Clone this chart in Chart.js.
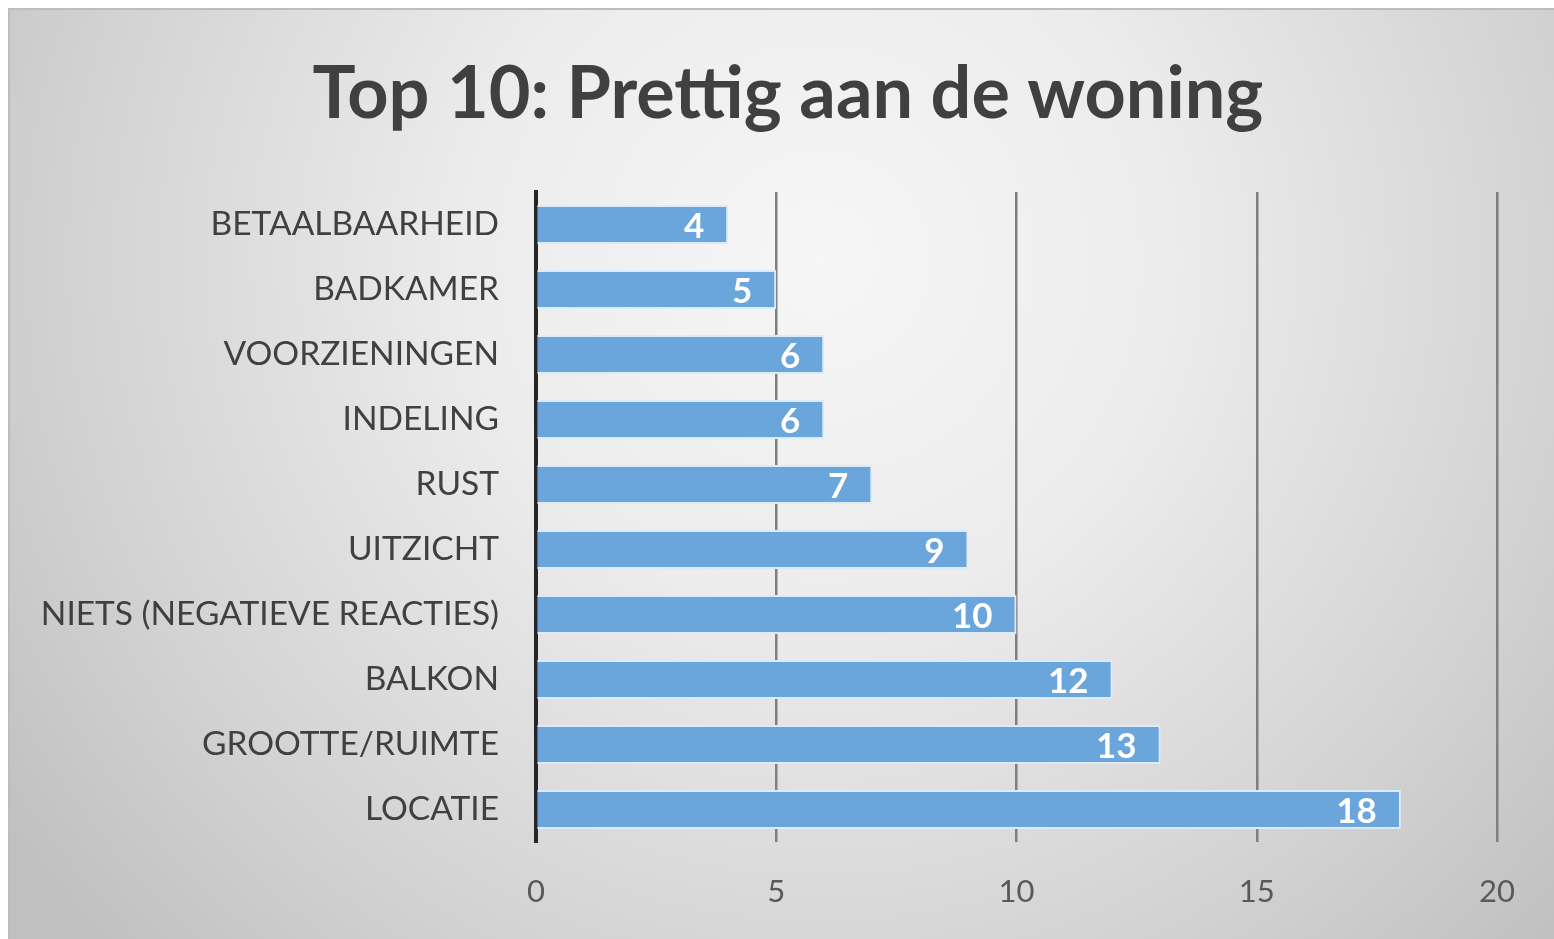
<!DOCTYPE html>
<html>
<head>
<meta charset="utf-8">
<style>
html,body{margin:0;padding:0;background:#fff;}
#wrap{position:absolute;left:0;top:0;width:1554px;height:939px;}
</style>
<script src="https://cdn.jsdelivr.net/npm/chart.js@4.4.1/dist/chart.umd.min.js"></script>
</head>
<body>
<div id="wrap"><canvas id="c" width="1554" height="939"></canvas></div>
<script>
const titleText = 'Top 10: Prettig aan de woning';
const categories = ['BETAALBAARHEID','BADKAMER','VOORZIENINGEN','INDELING','RUST','UITZICHT','NIETS (NEGATIEVE REACTIES)','BALKON','GROOTTE/RUIMTE','LOCATIE'];
const values = [4,5,6,6,7,9,10,12,13,18];
const xTicks = [0,5,10,15,20];

const FONT = "Lato, 'Open Sans', 'Liberation Sans', sans-serif";

const bgPlugin = {
  id: 'bg',
  beforeDraw(chart) {
    const ctx = chart.ctx;
    const W = chart.width, H = chart.height;
    ctx.save();
    ctx.fillStyle = '#ffffff';
    ctx.fillRect(0, 0, W, H);
    const g = ctx.createRadialGradient(820, 260, 0, 820, 260, 1000);
    g.addColorStop(0, '#f6f6f6');
    g.addColorStop(0.35, '#ececec');
    g.addColorStop(0.75, '#d2d2d2');
    g.addColorStop(1, '#c0c0c0');
    ctx.fillStyle = g;
    ctx.fillRect(9, 8, W - 9, H - 8);
    ctx.strokeStyle = '#bdbdbd';
    ctx.lineWidth = 2;
    ctx.beginPath();
    ctx.moveTo(9, H); ctx.lineTo(9, 9); ctx.lineTo(W, 9);
    ctx.stroke();
    // chart title
    ctx.fillStyle = '#404040';
    ctx.font = "bold 72px " + FONT;
    ctx.textAlign = 'center';
    ctx.textBaseline = 'alphabetic';
    ctx.fillText(titleText, 788, 118);
    ctx.restore();
  }
};

const labelPlugin = {
  id: 'barLabels',
  afterDatasetsDraw(chart) {
    const ctx = chart.ctx;
    const meta = chart.getDatasetMeta(0);
    ctx.save();
    ctx.fillStyle = '#ffffff';
    ctx.font = "bold 35px " + FONT;
    ctx.textAlign = 'right';
    ctx.textBaseline = 'middle';
    meta.data.forEach((bar, i) => {
      ctx.fillText(String(values[i]), bar.x - 24, bar.y + 2);
    });
    ctx.restore();
  }
};

new Chart(document.getElementById('c'), {
  type: 'bar',
  data: {
    labels: categories,
    datasets: [{
      data: values,
      backgroundColor: '#6aa5db',
      borderColor: '#dcebf8',
      borderWidth: 2,
      borderSkipped: 'left',
      categoryPercentage: 1,
      barPercentage: 0.6
    }]
  },
  options: {
    indexAxis: 'y',
    responsive: false,
    animation: false,
    devicePixelRatio: 1,
    layout: { padding: { top: 192, left: 10, right: 57, bottom: 0 } },
    plugins: {
      legend: { display: false },
      tooltip: { enabled: false },
      title: { display: false }
    },
    scales: {
      x: {
        min: 0, max: 20,
        afterBuildTicks(scale) { scale.ticks = xTicks.map(v => ({ value: v })); },
        afterFit(scale) { scale.height = 97; },
        grid: { color: '#7f7f7f', lineWidth: 2.5, drawTicks: false },
        border: { display: false },
        ticks: {
          color: '#595959',
          padding: 31,
          font: { family: FONT, size: 31, lineHeight: 1.2 }
        }
      },
      y: {
        afterFit(scale) { scale.width = 536 - 10; },
        grid: { display: false, drawTicks: false },
        border: { display: true, color: '#262626', width: 4 },
        ticks: {
          color: '#404040',
          padding: 37,
          font: { family: FONT, size: 33.5 }
        }
      }
    }
  },
  plugins: [bgPlugin, labelPlugin]
});
</script>
</body>
</html>
